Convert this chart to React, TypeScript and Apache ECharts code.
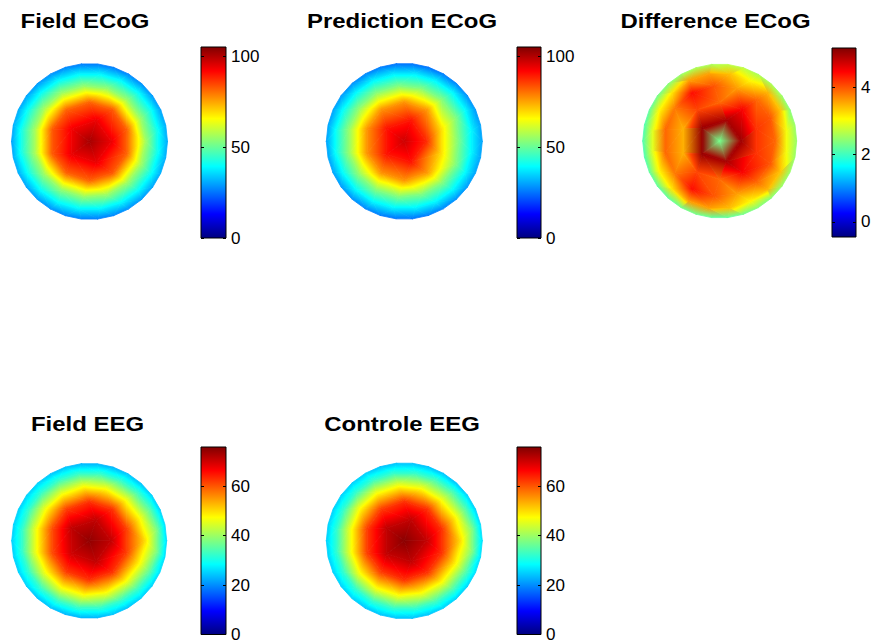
import React, { useEffect, useRef } from "react";
import * as echarts from "echarts";

// Electrode mesh: concentric rings (radius in head radii, electrode count, angular offset in degrees)
const ringRadii = [0, 0.28, 0.5, 0.72, 0.88, 1.0];
const ringCounts = [1, 5, 10, 15, 20, 30];
const ringOffsets = [0, 0, 18, 0, 9, 0];

// Electrode values per ring, counterclockwise from the right-hand side
const fieldEcog = [
  [101],
  [94, 94, 93, 94, 94],
  [82, 83, 82, 82, 83, 83, 82, 82, 83, 82],
  [56, 55, 55, 54, 54, 55, 56, 56, 56, 55, 54, 54, 55, 55, 56],
  [41, 41, 40, 39, 38, 38, 39, 40, 41, 42, 42, 41, 40, 39, 38, 38, 39, 40, 41, 41],
  [31, 31, 30, 29, 28, 27, 26, 26, 26, 27, 28, 29, 30, 31, 31, 30, 31, 31, 30, 29, 28, 27, 26, 26, 27, 28, 29, 30, 31, 31],
];

const predictionEcog = [
  [97],
  [88, 90, 90, 90, 90],
  [69, 76, 77, 77, 77, 77, 77, 77, 76, 69],
  [50, 53, 53, 52, 52, 53, 54, 55, 55, 54, 53, 52, 52, 53, 53],
  [38, 39, 39, 38, 37, 37, 38, 39, 40, 41, 41, 40, 39, 38, 37, 37, 38, 39, 39, 38],
  [30, 30, 29, 28, 27, 26, 25, 25, 25, 26, 27, 28, 29, 30, 30, 30, 30, 30, 29, 28, 27, 26, 25, 25, 26, 27, 28, 29, 30, 30],
];

const differenceEcog = [
  [2.3],
  [5.0, 4.95, 5.05, 5.05, 4.95],
  [4.2, 4.5, 3.9, 4.1, 3.5, 3.5, 4.1, 3.9, 4.5, 4.2],
  [3.9, 4.0, 3.9, 3.6, 4.0, 4.4, 3.8, 3.9, 3.9, 3.8, 4.4, 4.0, 3.6, 3.9, 4.0],
  [3.0, 3.4, 3.5, 3.1, 3.4, 3.6, 3.6, 3.2, 3.1, 2.9, 2.9, 3.1, 3.2, 3.6, 3.6, 3.4, 3.1, 3.5, 3.4, 3.0],
  [2.5, 2.5, 2.4, 2.5, 2.6, 2.6, 2.7, 2.7, 2.6, 2.6, 2.5, 2.4, 2.3, 2.2, 2.1, 2.1, 2.1, 2.2, 2.2, 2.2, 2.3, 2.3, 2.2, 2.2, 2.3, 2.4, 2.4, 2.5, 2.5, 2.5],
];

const fieldEeg = [
  [74.5],
  [71, 71, 71, 70, 71],
  [62, 63, 63, 62, 61, 61, 62, 63, 63, 62],
  [50, 47, 46, 46, 46, 45, 45, 45, 45, 45, 46, 46, 46, 46, 47],
  [38, 35, 33, 32, 32, 32, 32, 32, 32, 32, 32, 32, 32, 32, 32, 32, 32, 33, 35, 38],
  [26, 26, 25, 25, 24, 24, 23, 23, 23, 24, 24, 25, 25, 25, 25, 25, 25, 25, 25, 24, 24, 23, 23, 23, 24, 24, 25, 25, 26, 26],
];

const controleEeg = [
  [75],
  [71, 71, 71, 71, 71],
  [63, 63, 63, 62, 62, 62, 62, 63, 63, 63],
  [50, 48, 46, 46, 46, 46, 46, 45, 45, 46, 46, 46, 46, 47, 48],
  [38, 35, 34, 33, 32, 32, 32, 32, 32, 32, 32, 32, 32, 32, 32, 32, 33, 34, 35, 38],
  [26, 26, 25, 25, 24, 24, 24, 24, 24, 24, 25, 25, 25, 25, 25, 25, 25, 25, 25, 25, 24, 24, 24, 24, 24, 25, 25, 25, 26, 26],
];

// Colour limits and colorbar ticks
const ecogLimits = [0, 105];
const differenceLimits = [-0.45, 5.17];
const eegLimits = [0, 75.8];
const ecogTicks = [0, 50, 100];
const differenceTicks = [0, 2, 4];
const eegTicks = [0, 20, 40, 60];

const titles = ["Field ECoG", "Prediction ECoG", "Difference ECoG", "Field EEG", "Controle EEG"];

// Panel layout (pixels); rgb = interpolate vertex colours instead of values
const panels = [
  { values: fieldEcog, limits: ecogLimits, ticks: ecogTicks, rgb: false, cx: 89.5, cy: 141.5, r: 78, bar: [201, 47, 25, 191], tx: 85, ty: 21 },
  { values: predictionEcog, limits: ecogLimits, ticks: ecogTicks, rgb: false, cx: 404.3, cy: 141.3, r: 78, bar: [517, 47, 24, 191], tx: 402, ty: 21 },
  { values: differenceEcog, limits: differenceLimits, ticks: differenceTicks, rgb: true, cx: 719.7, cy: 141, r: 77, bar: [832, 48, 24, 189], tx: 715.5, ty: 21 },
  { values: fieldEeg, limits: eegLimits, ticks: eegTicks, rgb: false, cx: 89.2, cy: 540.8, r: 77.5, bar: [201, 447, 25, 191], tx: 87.5, ty: 424 },
  { values: controleEeg, limits: eegLimits, ticks: eegTicks, rgb: false, cx: 404.3, cy: 540.8, r: 78, bar: [517, 447, 24, 191], tx: 402, ty: 424 },
];

const jetBreaks = [0, 1 / 8, 3 / 8, 5 / 8, 7 / 8, 1];

function jet(f: number): string {
  const t = Math.max(0, Math.min(1, f));
  const c = (x: number) => Math.round(255 * Math.max(0, Math.min(1, x)));
  const r = c(1.5 - Math.abs(4 * t - 3));
  const g = c(1.5 - Math.abs(4 * t - 2));
  const b = c(1.5 - Math.abs(4 * t - 1));
  return `rgb(${r},${g},${b})`;
}

const jetStops = jetBreaks.map((f) => ({ offset: f, color: jet(f) }));

// Electrode positions and ring membership
function buildMesh() {
  const pos: number[][] = [];
  const rings: number[][] = [];
  ringRadii.forEach((rad, ri) => {
    const idx: number[] = [];
    for (let k = 0; k < ringCounts[ri]; k++) {
      const a = ((ringOffsets[ri] + (360 * k) / ringCounts[ri]) * Math.PI) / 180;
      idx.push(pos.length);
      pos.push([rad * Math.cos(a), rad * Math.sin(a)]);
    }
    rings.push(idx);
  });
  const tris: number[][] = [];
  for (let ri = 0; ri < rings.length - 1; ri++) {
    const A = rings[ri];
    const B = rings[ri + 1];
    const nA = A.length;
    const nB = B.length;
    if (nA === 1) {
      for (let j = 0; j < nB; j++) tris.push([A[0], B[j], B[(j + 1) % nB]]);
      continue;
    }
    const angA = (k: number) => ringOffsets[ri] + (360 * k) / nA;
    const angB = (k: number) => ringOffsets[ri + 1] + (360 * k) / nB;
    let i = 0;
    let j = 0;
    while (i < nA || j < nB) {
      const advanceA = j >= nB || (i < nA && angA(i + 1) <= angB(j + 1));
      if (advanceA) {
        tris.push([A[i % nA], A[(i + 1) % nA], B[j % nB]]);
        i++;
      } else {
        tris.push([A[i % nA], B[j % nB], B[(j + 1) % nB]]);
        j++;
      }
    }
  }
  return { pos, tris };
}

function triangleData(values: number[][]) {
  const { pos, tris } = buildMesh();
  const flat = values.flat();
  return tris.map((t) => t.flatMap((k) => [pos[k][0], pos[k][1], flat[k]]));
}

const makeTriangleRenderer = (lo: number, hi: number, rgb: boolean) => (_params: any, api: any) => {
  const pts: number[][] = [];
  const vals: number[] = [];
  for (let k = 0; k < 3; k++) {
    pts.push(api.coord([api.value(3 * k), api.value(3 * k + 1)]));
    vals.push(api.value(3 * k + 2));
  }
  const frac = (v: number) => (v - lo) / (hi - lo);
  const order = [0, 1, 2].sort((a, b) => vals[a] - vals[b]);
  const v0 = vals[order[0]];
  const v1 = vals[order[1]];
  const v2 = vals[order[2]];
  const dx1 = pts[1][0] - pts[0][0];
  const dy1 = pts[1][1] - pts[0][1];
  const dx2 = pts[2][0] - pts[0][0];
  const dy2 = pts[2][1] - pts[0][1];
  const det = dx1 * dy2 - dx2 * dy1;
  const makeFill = (): any => {
    if (v2 - v0 < 1e-9 || Math.abs(det) < 1e-9) return jet(frac(v0));
    const dv1 = vals[1] - vals[0];
    const dv2 = vals[2] - vals[0];
    const gx = (dv1 * dy2 - dv2 * dy1) / det;
    const gy = (dx1 * dv2 - dx2 * dv1) / det;
    const t = (v2 - v0) / (gx * gx + gy * gy);
    const s = pts[order[0]];
    let colorStops: any[];
    if (rgb) {
      colorStops = [
        { offset: 0, color: jet(frac(v0)) },
        { offset: (v1 - v0) / (v2 - v0), color: jet(frac(v1)) },
        { offset: 1, color: jet(frac(v2)) },
      ];
    } else {
      const f0 = frac(v0);
      const f2 = frac(v2);
      const fs = [f0, ...jetBreaks.filter((b) => b > f0 && b < f2), f2];
      colorStops = fs.map((f) => ({ offset: (f - f0) / (f2 - f0), color: jet(f) }));
    }
    return { type: "linear", x: s[0], y: s[1], x2: s[0] + gx * t, y2: s[1] + gy * t, global: true, colorStops };
  };
  return {
    type: "polygon",
    shape: { points: pts },
    style: { fill: makeFill(), stroke: makeFill(), lineWidth: 0.8 },
  };
};

const renderColorbar = (_params: any, api: any) => {
  const a = api.coord([api.value(0), api.value(1)]);
  const b = api.coord([api.value(2), api.value(3)]);
  return {
    type: "rect",
    shape: { x: a[0], y: b[1], width: b[0] - a[0], height: a[1] - b[1] },
    style: {
      fill: { type: "linear", x: 0, y: 1, x2: 0, y2: 0, colorStops: jetStops },
      stroke: "#000",
      lineWidth: 1,
    },
  };
};

function buildOption() {
  const grid: any[] = [];
  const xAxis: any[] = [];
  const yAxis: any[] = [];
  const series: any[] = [];
  const hidden = { show: false };

  panels.forEach((p) => {
    const [lo, hi] = p.limits;
    // topographic map
    const mapGrid = grid.length;
    grid.push({ left: p.cx - p.r, top: p.cy - p.r, width: 2 * p.r, height: 2 * p.r });
    const mapX = xAxis.length;
    xAxis.push({ gridIndex: mapGrid, type: "value", min: -1, max: 1, ...hidden });
    const mapY = yAxis.length;
    yAxis.push({ gridIndex: mapGrid, type: "value", min: -1, max: 1, ...hidden });
    series.push({
      type: "custom",
      xAxisIndex: mapX,
      yAxisIndex: mapY,
      silent: true,
      clip: false,
      data: triangleData(p.values),
      renderItem: makeTriangleRenderer(lo, hi, p.rgb),
    });

    // colorbar
    const [bx, by, bw, bh] = p.bar;
    const barGrid = grid.length;
    grid.push({ left: bx, top: by, width: bw, height: bh });
    const barX = xAxis.length;
    xAxis.push({ gridIndex: barGrid, type: "value", min: 0, max: 1, ...hidden });
    const tick = { show: true, inside: true, length: 3, customValues: p.ticks, lineStyle: { color: "#000", width: 1 } };
    yAxis.push({
      gridIndex: barGrid, type: "value", min: lo, max: hi, position: "left", z: 10,
      axisLine: { show: false }, splitLine: { show: false }, axisTick: tick, axisLabel: { show: false },
    });
    const barYRight = yAxis.length;
    yAxis.push({
      gridIndex: barGrid, type: "value", min: lo, max: hi, position: "right", z: 10,
      axisLine: { show: false }, splitLine: { show: false }, axisTick: tick,
      axisLabel: {
        show: true, customValues: p.ticks, margin: 5, color: "#000",
        fontSize: 17, fontFamily: "Liberation Sans, Arial, sans-serif",
        formatter: (v: number) => String(v),
      },
    });
    series.push({
      type: "custom",
      xAxisIndex: barX,
      yAxisIndex: barYRight,
      silent: true,
      clip: false,
      data: [[0, lo, 1, hi]],
      renderItem: renderColorbar,
    });
  });

  const graphic = panels.map((p, i) => ({
    type: "text",
    x: p.tx,
    y: p.ty,
    scaleX: 1.14,
    silent: true,
    style: {
      text: titles[i],
      fill: "#000",
      fontSize: 21,
      fontWeight: "bold",
      fontFamily: "Liberation Sans, Arial, sans-serif",
      align: "center",
      verticalAlign: "middle",
      textAlign: "center",
      textVerticalAlign: "middle",
    },
  }));

  return { animation: false, backgroundColor: "#fff", grid, xAxis, yAxis, series, graphic };
}

export default function App() {
  const ref = useRef<HTMLDivElement>(null);
  useEffect(() => {
    if (!ref.current) return;
    const chart = echarts.init(ref.current, undefined, { renderer: "svg" });
    chart.setOption(buildOption() as any);
    return () => chart.dispose();
  }, []);
  return <div ref={ref} style={{ position: "absolute", left: 0, top: 0, width: 874, height: 643 }} />;
}
